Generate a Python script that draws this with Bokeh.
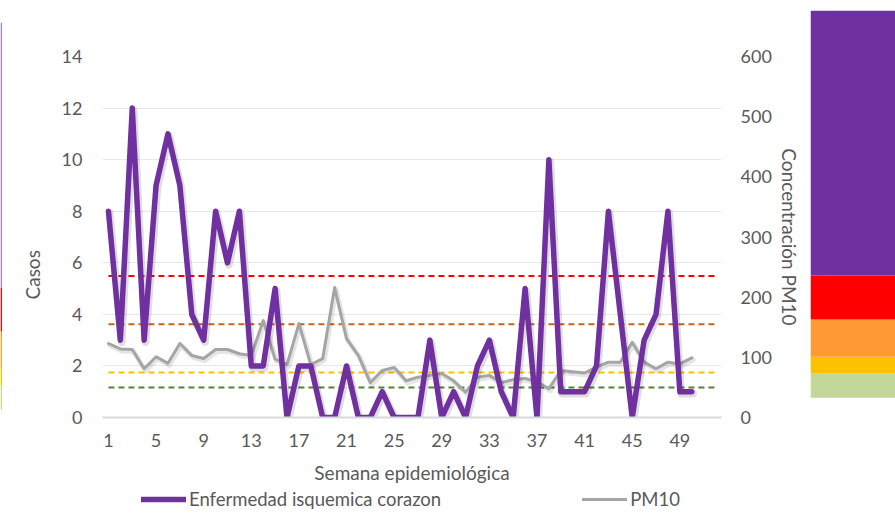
from bokeh.plotting import figure
from bokeh.models import Range1d, LinearAxis, FixedTicker, Legend, LegendItem, ColumnDataSource, Title
from bokeh.layouts import row, column
from bokeh.embed import file_html
from bokeh.resources import INLINE

# ---- data ----
weeks = list(range(1, 51))
casos = [8, 3, 12, 3, 9, 11, 9, 4, 3, 8, 6, 8, 2, 2, 5, 0, 2, 2, 0, 0,
         2, 0, 0, 1, 0, 0, 0, 3, 0, 1, 0, 2, 3, 1, 0, 5, 0, 10, 1, 1,
         1, 2, 8, 4, 0, 3, 4, 8, 1, 1]
pm10 = [123, 114, 113, 81, 101, 90, 123, 103, 98, 113, 113, 106, 103, 161, 97, 88, 156, 88, 98, 216,
        131, 103, 58, 78, 83, 61, 67, 70, 73, 61, 42, 67, 70, 58, 63, 65, 59, 48, 78, 76,
        74, 84, 92, 92, 125, 92, 81, 92, 89, 99]
threshold_weeks = list(range(1, 53))
thresholds = [235, 155, 75, 50]
threshold_colors = ["#FF0000", "#C8651B", "#FFC000", "#548235"]
x_ticks = list(range(1, 50, 4))
left_ticks = list(range(0, 15, 2))
right_ticks = list(range(0, 601, 100))
ica_low = [33, 73, 101, 163, 236]
ica_high = [73, 101, 163, 236, 676]
ica_colors = ["#C4D79B", "#FFC000", "#FF9933", "#FF0000", "#7030A0"]
strip_colors = ["#C4D79B", "#FFC000", "#FF9933", "#FF0000", "#A57FD0"]

FONT = "Lato"
TXT = "#595959"
H = 488          # height of chart row
LEG_H = 513 - H  # height of legend strip

p = figure(width=808, height=H, x_range=Range1d(0.5, 52.5), y_range=Range1d(0, 14),
           output_backend="svg", toolbar_location=None,
           min_border_left=100, min_border_right=89, min_border_top=56, min_border_bottom=H - 417)
p.frame_align = False
p.outline_line_color = None
p.extra_y_ranges = {"pm": Range1d(0, 600),
                    "c_sh": Range1d(0.08, 14.08), "pm_sh": Range1d(3.3, 603.3)}
p.extra_x_ranges = {"x_sh": Range1d(0.5 - 0.12, 52.5 - 0.12)}

p.xgrid.grid_line_color = None
p.ygrid.grid_line_color = "#E8E8E8"

p.yaxis.ticker = FixedTicker(ticks=left_ticks)
p.yaxis.axis_line_color = None
p.yaxis.major_tick_line_color = None
p.yaxis.minor_tick_line_color = None
p.yaxis.major_label_text_font = FONT
p.yaxis.major_label_text_font_size = "18px"
p.yaxis.major_label_text_color = TXT
p.yaxis.major_label_standoff = 14

ytitle = Title(text="Casos", align="left", offset=118, text_font=FONT,
               text_font_size="19px", text_font_style="normal", text_color=TXT)
if "standoff" in Title.properties():
    ytitle.standoff = 30
p.add_layout(ytitle, "left")

ra = LinearAxis(y_range_name="pm", ticker=FixedTicker(ticks=right_ticks))
ra.axis_line_color = None
ra.major_tick_line_color = None
ra.minor_tick_line_color = None
ra.major_label_text_font = FONT
ra.major_label_text_font_size = "18px"
ra.major_label_text_color = TXT
ra.major_label_standoff = 13
ra.axis_label = "Concentración PM10"
ra.axis_label_text_font = FONT
ra.axis_label_text_font_size = "19px"
ra.axis_label_text_font_style = "normal"
ra.axis_label_text_color = TXT
ra.axis_label_standoff = 3
p.add_layout(ra, "right")

p.xaxis.ticker = FixedTicker(ticks=x_ticks)
p.xaxis.axis_line_color = "#D9D9D9"
p.xaxis.axis_line_width = 2
p.xaxis.major_tick_line_color = None
p.xaxis.minor_tick_line_color = None
p.xaxis.major_label_text_font = FONT
p.xaxis.major_label_text_font_size = "18px"
p.xaxis.major_label_text_color = TXT
p.xaxis.major_label_standoff = 10
p.xaxis.axis_label = "Semana epidemiológica"
p.xaxis.axis_label_text_font = FONT
p.xaxis.axis_label_text_font_size = "19px"
p.xaxis.axis_label_text_font_style = "normal"
p.xaxis.axis_label_text_color = TXT
p.xaxis.axis_label_standoff = 11

for val, col in zip(thresholds, threshold_colors):
    p.line(threshold_weeks, [val] * len(threshold_weeks), y_range_name="pm",
           line_color=col, line_width=2, line_dash="6 4")

src = ColumnDataSource(dict(week=weeks, casos=casos, pm10=pm10))
# soft drop shadows (same data, slightly offset scales)
p.line("week", "pm10", source=src, x_range_name="x_sh", y_range_name="pm_sh",
       line_color="black", line_alpha=0.10, line_width=5, line_join="round", line_cap="round")
p.line("week", "pm10", source=src, y_range_name="pm", line_color="#A5A5A5",
       line_width=3, line_join="round", line_cap="round")
p.line("week", "casos", source=src, x_range_name="x_sh", y_range_name="c_sh",
       line_color="black", line_alpha=0.13, line_width=7.5, line_join="round", line_cap="round")
p.line("week", "casos", source=src, line_color="#7030A0", line_width=5.5,
       line_join="round", line_cap="round")

# right colour scale (mapped like the PM10 axis, 0 at y=417)
s = figure(width=85, height=H, x_range=Range1d(0, 1), y_range=Range1d(-118, 693),
           output_backend="svg", toolbar_location=None, min_border=0)
s.frame_align = False
s.axis.visible = False
s.grid.grid_line_color = None
s.outline_line_color = None
s.quad(left=0, right=1, bottom=ica_low, top=ica_high, fill_color=ica_colors, line_color=None)

# thin cut-off scale at left edge
t = figure(width=2, height=H, x_range=Range1d(0, 1), y_range=Range1d(-98, 713),
           output_backend="svg", toolbar_location=None, min_border=0)
t.frame_align = False
t.axis.visible = False
t.grid.grid_line_color = None
t.outline_line_color = None
t.quad(left=0, right=1, bottom=ica_low, top=ica_high, fill_color=strip_colors, line_color=None)

# legend strip (renderers hold the real series, drawn outside this strip's view)
lg = figure(width=895, height=LEG_H, x_range=Range1d(-3, -2), y_range=Range1d(-3, -2),
            output_backend="svg", toolbar_location=None, min_border=0)
lg.frame_align = False
lg.axis.visible = False
lg.grid.grid_line_color = None
lg.outline_line_color = None
d1 = lg.line(weeks, casos, line_color="#7030A0", line_width=5.5, line_cap="round")
d2 = lg.line(weeks, pm10, line_color="#A5A5A5", line_width=3, line_cap="round")
legend = Legend(items=[LegendItem(label="Enfermedad isquemica corazon", renderers=[d1]),
                       LegendItem(label="PM10", renderers=[d2])],
                orientation="horizontal", location=(141, 3))
legend.label_text_font = FONT
legend.label_text_font_size = "18.5px"
legend.label_text_color = TXT
legend.glyph_width = 45
legend.glyph_height = 18
legend.label_height = 18
legend.label_standoff = 3
legend.spacing = 141
legend.border_line_color = None
legend.background_fill_alpha = 0
legend.margin = 0
legend.padding = 0
lg.add_layout(legend, "center")

layout = column(row(t, p, s), lg)
open("out.html", "w").write(file_html(layout, INLINE))
